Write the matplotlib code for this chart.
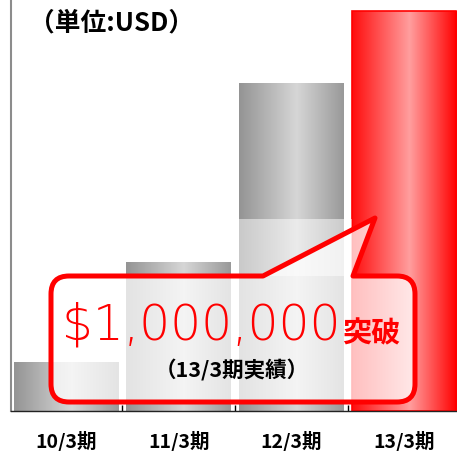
import numpy as np
import matplotlib
matplotlib.use("Agg")
import matplotlib.pyplot as plt
from matplotlib.path import Path
from matplotlib.patches import PathPatch, Rectangle

# -----------------------------
# Data (USD)
# -----------------------------
periods = ["10/3期", "11/3期", "12/3期", "13/3期"]
sales_usd = [125000, 380000, 836000, 1020000]
highlight = [False, False, False, True]

unit_label = "（単位:USD）"
callout_main = "$1,000,000"
callout_suffix = "突破"
callout_note = "（13/3期実績）"

CJK = ["Noto Sans CJK JP", "DejaVu Sans"]
W, H = 457, 452

fig = plt.figure(figsize=(W / 100, H / 100), dpi=100)
ax = fig.add_axes([11 / W, 40 / H, 446 / W, 412 / H])

x = np.arange(len(periods))
bars = ax.bar(x, sales_usd, width=0.93, color="none", edgecolor="none", zorder=1)


def gradient(c_edge, c_mid, c_right, n=256):
    t = np.linspace(0, 1, n)
    stops = [0.0, 0.55, 1.0]
    rgb = np.zeros((1, n, 3))
    for k in range(3):
        rgb[0, :, k] = np.interp(t, stops, [c_edge[k], c_mid[k], c_right[k]])
    return rgb


gray_grad = gradient((0.58, 0.58, 0.58), (0.84, 0.84, 0.84), (0.60, 0.60, 0.60))
red_grad = gradient((1.0, 0.05, 0.05), (1.0, 0.62, 0.62), (1.0, 0.0, 0.0))

for bar, hl in zip(bars, highlight):
    bx, bw, bh = bar.get_x(), bar.get_width(), bar.get_height()
    im = ax.imshow(red_grad if hl else gray_grad, extent=[bx, bx + bw, 0, bh],
                   aspect="auto", zorder=1, interpolation="bilinear")
    im.set_clip_path(bar)
    if hl:
        bar.set_edgecolor("red")
        bar.set_linewidth(1.2)
        bar.set_zorder(1.5)

ax.set_xlim(-0.488, 3.470)
ax.set_ylim(0, 1050000)

# axes styling
ax.spines["top"].set_visible(False)
ax.spines["right"].set_visible(False)
ax.spines["left"].set_color("#8c8c8c")
ax.spines["left"].set_linewidth(1.5)
ax.spines["bottom"].set_color("#222222")
ax.spines["bottom"].set_linewidth(1.0)
ax.set_yticks([])
ax.set_xticks(x)
ax.set_xticklabels(periods, fontsize=14, fontweight="bold", family=CJK)
ax.tick_params(axis="x", which="major", length=0, pad=14)
ax.set_xticks([0.5, 1.5, 2.5], minor=True)
ax.tick_params(axis="x", which="minor", direction="in", length=4.5, width=1, color="black")


# -----------------------------
# Callout (pixel coords -> figure fraction)
# -----------------------------
def fp(px, py):
    return (px / W, (H - py) / H)


l, r, t, b, rad = 51, 415, 277, 403, 18
verts = [fp(263, t), fp(l + rad, t), fp(l, t), fp(l, t + rad), fp(l, b - rad),
         fp(l, b), fp(l + rad, b), fp(r - rad, b), fp(r, b), fp(r, b - rad),
         fp(r, t + rad), fp(r, t), fp(r - rad, t), fp(353, t), fp(375, 219),
         fp(263, t)]
codes = [Path.MOVETO, Path.LINETO, Path.CURVE3, Path.CURVE3, Path.LINETO,
         Path.CURVE3, Path.CURVE3, Path.LINETO, Path.CURVE3, Path.CURVE3,
         Path.LINETO, Path.CURVE3, Path.CURVE3, Path.LINETO, Path.LINETO,
         Path.CLOSEPOLY]

# soft white panel behind the pointer
x0, y0 = fp(237, 277)
x1, y1 = fp(352, 220)
fig.patches.append(Rectangle((x0, y0), x1 - x0, y1 - y0, transform=fig.transFigure,
                             facecolor=(1, 1, 1, 0.5), edgecolor="none", zorder=3))

callout = PathPatch(Path(verts, codes), transform=fig.transFigure,
                    facecolor=(1, 1, 1, 0.74), edgecolor="#ff0000",
                    linewidth=3.6, joinstyle="round", zorder=4)
fig.patches.append(callout)

fig.text(*fp(62, 326), callout_main, color="#ff0000", fontsize=35,
         family="DejaVu Sans", fontweight="light", ha="left", va="center", zorder=5)
fig.text(*fp(371, 333), callout_suffix, color="#ff0000", fontsize=21,
         fontweight="bold", family=CJK, ha="center", va="center", zorder=5)
fig.text(*fp(232, 370), callout_note, color="black", fontsize=15.5,
         fontweight="bold", family=CJK, ha="center", va="center", zorder=5)

fig.text(*fp(112, 23), unit_label, color="black", fontsize=18.5,
         fontweight="bold", family=CJK, ha="center", va="center")

fig.savefig("out.png", dpi=100)
